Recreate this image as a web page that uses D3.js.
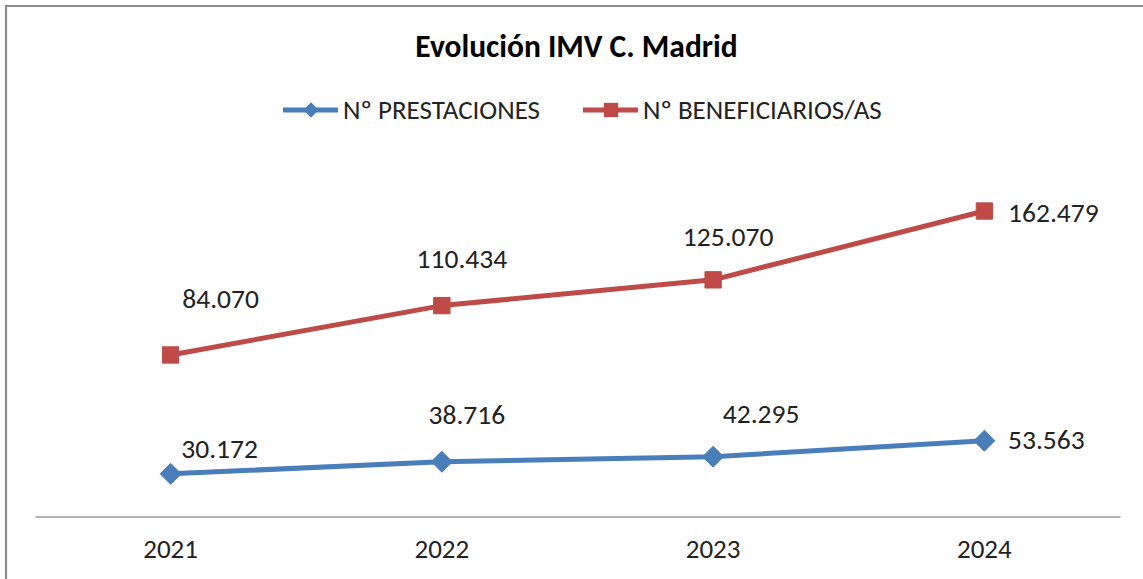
<!DOCTYPE html>
<html>
<head>
<meta charset="utf-8">
<script src="https://cdnjs.cloudflare.com/ajax/libs/d3/7.8.5/d3.min.js"></script>
<style>
  body{margin:0;background:#fff;}
  svg{display:block;font-family:Carlito,Calibri,"Open Sans",sans-serif;}
</style>
</head>
<body>
<div id="chart"></div>
<script>
// chart data
var years = ["2021","2022","2023","2024"];
var prestaciones = [30172, 38716, 42295, 53563];
var beneficiarios = [84070, 110434, 125070, 162479];
var seriesNames = ["Nº PRESTACIONES","Nº BENEFICIARIOS/AS"];
var chartTitle = "Evolución IMV C. Madrid";

// manual label offsets (dx, dy from point), like the moved labels in the source
var offPrest = [[49,-16],[25,-38],[48,-34],[62,8]];
var offBenef = [[50,-47],[20,-38],[15,-34],[69,11]];

var w = 1143, h = 579;
var margin = {"top":163,"right":23,"bottom":62.5,"left":35};
var colors = ["#4a7ebb","#be4b48"];
var fontSz = 27.5;

var svg = d3.select("#chart").append("svg")
  .attr("width", w)
  .attr("height", h);

// outer frame (cropped at right/bottom in source)
svg.append("path")
  .attr("d","M6,"+h+"V6H"+w)
  .attr("fill","none")
  .attr("stroke","#8c8c8c")
  .attr("stroke-width",2.2);

// stacked lines, as in the original chart
var rows = years.map(function(y,i){
  return {"year":y,"p":prestaciones[i],"b":beneficiarios[i]};
});
var stacked = d3.stack().keys(["p","b"])(rows);

var x = d3.scaleBand()
  .domain(years)
  .range([margin.left, w - margin.right]);

var y = d3.scaleLinear()
  .domain([0, 250000])
  .range([h - margin.bottom, margin.top]);

// category axis
var xAxis = svg.append("g")
  .attr("transform","translate(0,"+(h - margin.bottom)+")")
  .call(d3.axisBottom(x).tickSize(0).tickPadding(22));
xAxis.select(".domain").attr("stroke","#9a9a9a").attr("stroke-width",1.5);
xAxis.selectAll("text")
  .attr("font-size",27)
  .attr("font-family","Carlito,Calibri,'Open Sans',sans-serif")
  .attr("fill","#222");

var line = d3.line()
  .x(function(d){return x(d.data.year) + x.bandwidth()/2;})
  .y(function(d){return y(d[1]);});

var raw = [prestaciones, beneficiarios];
var offs = [offPrest, offBenef];

stacked.forEach(function(s,k){
  svg.append("path")
    .datum(s)
    .attr("d", line)
    .attr("fill","none")
    .attr("stroke", colors[k])
    .attr("stroke-width",5)
    .attr("stroke-linejoin","round");

  var sym = d3.symbol()
    .type(k===0 ? d3.symbolDiamond2 : d3.symbolSquare2)
    .size(k===0 ? 280 : 340);

  svg.selectAll(".m"+k)
    .data(s)
    .enter().append("path")
    .attr("class","m"+k)
    .attr("d", sym)
    .attr("transform",function(d){
      return "translate("+(x(d.data.year)+x.bandwidth()/2)+","+y(d[1])+")";
    })
    .attr("fill", colors[k])
    .attr("stroke", colors[k])
    .attr("stroke-width",1);

  svg.selectAll(".l"+k)
    .data(s)
    .enter().append("text")
    .attr("class","l"+k)
    .attr("x",function(d,i){return x(d.data.year)+x.bandwidth()/2+offs[k][i][0];})
    .attr("y",function(d,i){return y(d[1])+offs[k][i][1];})
    .attr("text-anchor","middle")
    .attr("font-size",fontSz)
    .attr("fill","#222")
    .text(function(d,i){return d3.format(",")(raw[k][i]).replace(/,/g,".");});
});

// title
svg.append("text")
  .attr("x",576.5)
  .attr("y",57)
  .attr("text-anchor","middle")
  .attr("font-size",31.5)
  .attr("font-weight","bold")
  .attr("fill","#000")
  .text(chartTitle);

// legend
var legX = [283, 583];
seriesNames.forEach(function(n,k){
  var g = svg.append("g").attr("transform","translate("+legX[k]+",110)");
  g.append("line")
    .attr("x1",0).attr("x2",55)
    .attr("stroke",colors[k]).attr("stroke-width",5);
  g.append("path")
    .attr("d", d3.symbol().type(k===0 ? d3.symbolDiamond2 : d3.symbolSquare2).size(k===0 ? 150 : 260))
    .attr("transform","translate(28,0)")
    .attr("fill",colors[k]);
  g.append("text")
    .attr("x",60)
    .attr("y",8.5)
    .attr("font-size",27)
    .attr("fill","#222")
    .text(n);
});
</script>
</body>
</html>
